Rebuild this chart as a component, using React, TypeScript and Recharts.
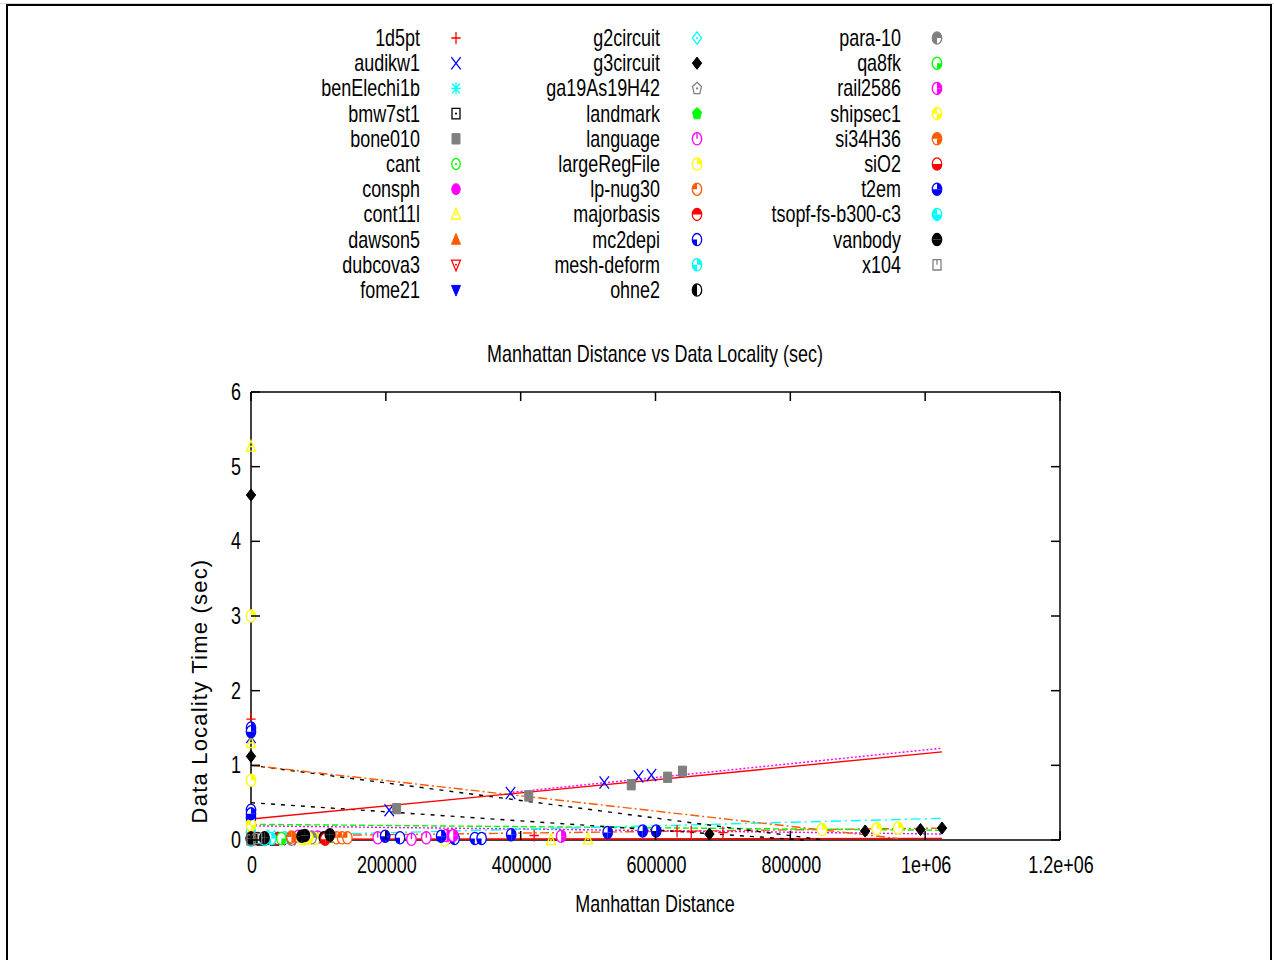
import React from 'react';
import { ScatterChart, Scatter, XAxis, YAxis, Legend, Label } from 'recharts';

// ---- axes ----
const xTicks = [0, 200000, 400000, 600000, 800000, 1000000, 1200000];
const xTickLabels = ['0', '200000', '400000', '600000', '800000', '1e+06', '1.2e+06'];
const yTicks = [0, 1, 2, 3, 4, 5, 6];

// ---- measurements: [manhattan distance, data locality time (sec)] ----
const d1d5pt = [[0, 1.62], [0, 0.02], [420000, 0.06], [632000, 0.12], [653000, 0.11], [700000, 0.1]];
const dAudikw1 = [[0, 1.38], [205000, 0.4], [385000, 0.63], [524000, 0.77], [575000, 0.85], [594000, 0.87]];
const dBenElechi1b = [[0, 0.05], [30000, 0.02], [45000, 0.03]];
const dBmw7st1 = [[5000, 0.01], [15000, 0.0], [25000, 0.01], [35000, 0.0], [45000, 0.01]];
const dBone010 = [[0, 0.02], [216000, 0.42], [412000, 0.59], [564000, 0.74], [618000, 0.84], [640000, 0.92]];
const dCant = [[0, 0.03], [60000, 0.02], [120000, 0.04]];
const dConsph = [[0, 0.05], [75000, 0.06], [90000, 0.05]];
const dCont11l = [[0, 5.27], [0, 1.3], [445000, 0.0], [500000, 0.01]];
const dDawson5 = [[40000, 0.03], [60000, 0.02], [70000, 0.03]];
const dDubcova3 = [[50000, 0.02], [65000, 0.02], [80000, 0.03]];
const dFome21 = [[0, 0.01], [20000, 0.0]];
const dG2circuit = [[0, 0.02], [25000, 0.05], [35000, 0.04]];
const dG3circuit = [[0, 4.62], [0, 1.12], [680000, 0.08], [911000, 0.12], [993000, 0.14], [1025000, 0.16]];
const dGa19As19H42 = [[0, 0.05], [80000, 0.04]];
const dLandmark = [[0, 0.02], [100000, 0.03]];
const dLanguage = [[99000, 0.04], [188000, 0.03], [238000, 0.01], [260000, 0.03], [285000, 0.04], [292000, 0.03]];
const dLargeRegFile = [[0, 3.0], [0, 0.8], [0, 0.25], [83000, 0.02], [95000, 0.02], [287000, 0.0], [847000, 0.14], [928000, 0.15], [960000, 0.16]];
const dLpNug30 = [[127000, 0.03], [135000, 0.03], [143000, 0.03]];
const dMajorbasis = [[0, 0.01], [40000, 0.02]];
const dMc2depi = [[0, 0.4], [0, 0.3], [221000, 0.03], [302000, 0.02], [332000, 0.02], [342000, 0.02]];
const dMeshDeform = [[0, 0.1], [30000, 0.02], [50000, 0.03]];
const dOhne2 = [[0, 0.03], [10000, 0.02], [20000, 0.01], [108000, 0.03], [115000, 0.05]];
const dPara10 = [[0, 0.0], [60000, 0.01], [90000, 0.03]];
const dQa8fk = [[0, 0.01], [45000, 0.02]];
const dRail2586 = [[70000, 0.05], [290000, 0.06], [300000, 0.06], [460000, 0.05]];
const dShipsec1 = [[0, 0.2], [75000, 0.02], [85000, 0.03]];
const dSi34H36 = [[0, 0.03], [60000, 0.04]];
const dSiO2 = [[0, 0.02], [110000, 0.01]];
const dT2em = [[0, 1.5], [0, 1.45], [0, 0.35], [199000, 0.05], [282000, 0.05], [386000, 0.07], [529000, 0.1], [581000, 0.12], [601000, 0.12]];
const dTsopf = [[0, 0.0], [20000, 0.01]];
const dVanbody = [[0, 0.02], [20000, 0.03], [75000, 0.05], [80000, 0.06], [117000, 0.07]];
const dX104 = [[0, 0.0], [10000, 0.02]];

// ---- fitted trend lines ----
const fitRed = [[0, 0.28], [1025000, 1.18]];
const fitMagenta = [[388000, 0.64], [1025000, 1.23]];
const fitOrange = [[0, 1.0], [960000, 0.02]];
const fitBlackA = [[0, 1.0], [850000, 0.0]];
const fitBlackB = [[0, 0.5], [820000, 0.0]];
const fitCyan = [[0, 0.05], [1025000, 0.29]];
const fitGreen = [[0, 0.21], [1025000, 0.13]];
const fitMagentaLow = [[0, 0.19], [1025000, 0.08]];
const fitOrangeLow = [[0, 0.05], [1025000, 0.16]];
const fitRedLow = [[0, 0.01], [1025000, 0.02]];

// invisible corner points that span the mirrored top/right axes
const frameCorners = [[0, 0], [1200000, 6]];

const RED = '#ff0000', BLUE = '#0000ff', CYAN = '#00ffff', BLACK = '#000000', GREY = '#808080',
  GREEN = '#00ff00', MAGENTA = '#ff00ff', YELLOW = '#ffff00', ORANGE = '#ff5a00';

type Series = { name: string; data: number[][]; color: string; kind: string };

const SERIES: Series[] = [
  { name: '1d5pt', data: d1d5pt, color: RED, kind: 'plus' },
  { name: 'audikw1', data: dAudikw1, color: BLUE, kind: 'cross' },
  { name: 'benElechi1b', data: dBenElechi1b, color: CYAN, kind: 'star' },
  { name: 'bmw7st1', data: dBmw7st1, color: BLACK, kind: 'boxDot' },
  { name: 'bone010', data: dBone010, color: GREY, kind: 'boxF' },
  { name: 'cant', data: dCant, color: GREEN, kind: 'circDot' },
  { name: 'consph', data: dConsph, color: MAGENTA, kind: 'circF' },
  { name: 'cont11l', data: dCont11l, color: YELLOW, kind: 'triDot' },
  { name: 'dawson5', data: dDawson5, color: ORANGE, kind: 'triF' },
  { name: 'dubcova3', data: dDubcova3, color: RED, kind: 'itriDot' },
  { name: 'fome21', data: dFome21, color: BLUE, kind: 'itriF' },
  { name: 'g2circuit', data: dG2circuit, color: CYAN, kind: 'diaDot' },
  { name: 'g3circuit', data: dG3circuit, color: BLACK, kind: 'diaF' },
  { name: 'ga19As19H42', data: dGa19As19H42, color: GREY, kind: 'pentDot' },
  { name: 'landmark', data: dLandmark, color: GREEN, kind: 'pentF' },
  { name: 'language', data: dLanguage, color: MAGENTA, kind: 'q0' },
  { name: 'largeRegFile', data: dLargeRegFile, color: YELLOW, kind: 'q1' },
  { name: 'lp-nug30', data: dLpNug30, color: ORANGE, kind: 'q2' },
  { name: 'majorbasis', data: dMajorbasis, color: RED, kind: 'q3' },
  { name: 'mc2depi', data: dMc2depi, color: BLUE, kind: 'q4' },
  { name: 'mesh-deform', data: dMeshDeform, color: CYAN, kind: 'q5' },
  { name: 'ohne2', data: dOhne2, color: BLACK, kind: 'q6' },
  { name: 'para-10', data: dPara10, color: GREY, kind: 'q7' },
  { name: 'qa8fk', data: dQa8fk, color: GREEN, kind: 'q8' },
  { name: 'rail2586', data: dRail2586, color: MAGENTA, kind: 'q9' },
  { name: 'shipsec1', data: dShipsec1, color: YELLOW, kind: 'q10' },
  { name: 'si34H36', data: dSi34H36, color: ORANGE, kind: 'q11' },
  { name: 'siO2', data: dSiO2, color: RED, kind: 'q12' },
  { name: 't2em', data: dT2em, color: BLUE, kind: 'q13' },
  { name: 'tsopf-fs-b300-c3', data: dTsopf, color: CYAN, kind: 'q14' },
  { name: 'vanbody', data: dVanbody, color: BLACK, kind: 'q15' },
  { name: 'x104', data: dX104, color: GREY, kind: 'boxE' },
];

type Fit = { data: number[][]; color: string; dash?: string };
const FITS: Fit[] = [
  { data: fitRedLow, color: RED },
  { data: fitOrangeLow, color: ORANGE, dash: '9 3 2 3' },
  { data: fitMagentaLow, color: MAGENTA, dash: '2 2' },
  { data: fitGreen, color: GREEN, dash: '6 3' },
  { data: fitCyan, color: CYAN, dash: '10 4 2 4' },
  { data: fitBlackB, color: BLACK, dash: '4 6' },
  { data: fitBlackA, color: BLACK, dash: '4 6' },
  { data: fitOrange, color: ORANGE, dash: '9 3 2 3' },
  { data: fitMagenta, color: MAGENTA, dash: '2 2' },
  { data: fitRed, color: RED },
];

const toPts = (a: number[][]) => a.map(([x, y]) => ({ x, y }));

const SANS = "'Liberation Sans', Arial, Helvetica, sans-serif";
const NARROW_SCALE = 0.78;
const FS = 23;

// condensed text: Liberation Sans squeezed horizontally
function NText({ x, y, anchor = 'start', children }: { x: number; y: number; anchor?: string; children: React.ReactNode }) {
  return (
    <text
      transform={`translate(${x},${y}) scale(${NARROW_SCALE},1)`}
      x={0}
      y={0}
      textAnchor={anchor as any}
      fontFamily={SANS}
      fontSize={FS}
      fill="#000"
    >
      {children}
    </text>
  );
}

// marker glyph, drawn in a unit box and stretched to point size
const SX = 4.7;
const SY = 6.1;

function quadPath(q: number) {
  // quadrant wedges: 0 upper-right, 1 upper-left, 2 lower-left, 3 lower-right
  const w = [
    'M0 0 L0 -1 A1 1 0 0 1 1 0 Z',
    'M0 0 L-1 0 A1 1 0 0 1 0 -1 Z',
    'M0 0 L0 1 A1 1 0 0 1 -1 0 Z',
    'M0 0 L1 0 A1 1 0 0 1 0 1 Z',
  ];
  return w[q];
}

function Glyph({ kind, cx, cy, color }: { kind: string; cx: number; cy: number; color: string }) {
  if (cx == null || cy == null || isNaN(cx) || isNaN(cy)) return <g />;
  const st = { stroke: color, strokeWidth: 1.3, vectorEffect: 'non-scaling-stroke' as const, fill: 'none' };
  const fl = { fill: color, stroke: color, strokeWidth: 1, vectorEffect: 'non-scaling-stroke' as const };
  const dot = <ellipse cx={0} cy={0} rx={0.22} ry={0.17} fill={color} />;
  let body: React.ReactNode = null;
  const tri = '0,-1 0.95,0.75 -0.95,0.75';
  const itri = '0,1 0.95,-0.75 -0.95,-0.75';
  const dia = '0,-1 1,0 0,1 -1,0';
  const pent = '0,-1 0.95,-0.3 0.6,0.85 -0.6,0.85 -0.95,-0.3';
  switch (kind) {
    case 'plus':
      body = <path d="M-1 0 L1 0 M0 -1 L0 1" {...st} />; break;
    case 'cross':
      body = <path d="M-1 -1 L1 1 M-1 1 L1 -1" {...st} />; break;
    case 'star':
      body = <path d="M-1 0 L1 0 M0 -1 L0 1 M-0.8 -0.8 L0.8 0.8 M-0.8 0.8 L0.8 -0.8" {...st} />; break;
    case 'boxDot':
      body = <g><rect x={-0.85} y={-0.85} width={1.7} height={1.7} {...st} />{dot}</g>; break;
    case 'boxF':
      body = <rect x={-0.85} y={-0.85} width={1.7} height={1.7} {...fl} />; break;
    case 'boxE':
      body = <g><rect x={-0.85} y={-0.85} width={1.7} height={1.7} {...st} /><path d="M0 -0.85 L0 0" {...st} /></g>; break;
    case 'circDot':
      body = <g><circle r={0.9} {...st} />{dot}</g>; break;
    case 'circF':
      body = <circle r={0.9} {...fl} />; break;
    case 'triDot':
      body = <g><polygon points={tri} {...st} />{dot}</g>; break;
    case 'triF':
      body = <polygon points={tri} {...fl} />; break;
    case 'itriDot':
      body = <g><polygon points={itri} {...st} />{dot}</g>; break;
    case 'itriF':
      body = <polygon points={itri} {...fl} />; break;
    case 'diaDot':
      body = <g><polygon points={dia} {...st} />{dot}</g>; break;
    case 'diaF':
      body = <polygon points={dia} {...fl} />; break;
    case 'pentDot':
      body = <g><polygon points={pent} {...st} />{dot}</g>; break;
    case 'pentF':
      body = <polygon points={pent} {...fl} />; break;
    default: {
      const mask = parseInt(kind.slice(1), 10);
      const wedges = [0, 1, 2, 3].filter((b) => mask & (1 << b));
      body = (
        <g>
          <circle r={1} fill="#fff" stroke="none" />
          {wedges.map((b) => <path key={b} d={quadPath(b)} fill={color} stroke="none" />)}
          {mask === 0 && <path d="M0 -1 L0 0" {...st} />}
          <circle r={1} {...st} />
        </g>
      );
    }
  }
  return <g transform={`translate(${cx},${cy}) scale(${SX},${SY})`}>{body}</g>;
}

const EmptyShape = () => <g />;

// ---- ticks (inward, mirrored on top/right) ----
const TICK = 9;
function BottomTick(p: any) {
  const i = xTicks.indexOf(p.payload.value);
  return (
    <g>
      <line x1={p.x} x2={p.x} y1={p.y} y2={p.y - TICK} stroke="#000" strokeWidth={1.5} />
      <NText x={p.x + 1} y={p.y + 33} anchor="middle">{xTickLabels[i]}</NText>
    </g>
  );
}
function TopTick(p: any) {
  return <line x1={p.x} x2={p.x} y1={p.y} y2={p.y + TICK} stroke="#000" strokeWidth={1.5} />;
}
function LeftTick(p: any) {
  return (
    <g>
      <line x1={p.x} x2={p.x + TICK} y1={p.y} y2={p.y} stroke="#000" strokeWidth={1.5} />
      <NText x={p.x - 10} y={p.y + 8} anchor="end">{p.payload.value}</NText>
    </g>
  );
}
function RightTick(p: any) {
  return <line x1={p.x} x2={p.x - TICK} y1={p.y} y2={p.y} stroke="#000" strokeWidth={1.5} />;
}

// ---- legend: three columns, label right-aligned with marker to the right ----
const LEG_LABEL_X = [420, 660, 901];
const LEG_MARK_X = [456, 697, 937];
const LEG_TOP = 38;
const LEG_STEP = 25.2;
const LEG_ROWS = 11;

function LegendBlock() {
  return (
    <svg width={1274} height={320} style={{ display: 'block' }}>
      {SERIES.map((s, i) => {
        const col = Math.floor(i / LEG_ROWS);
        const row = i % LEG_ROWS;
        const y = LEG_TOP + row * LEG_STEP;
        return (
          <g key={s.name}>
            <NText x={LEG_LABEL_X[col]} y={y + 8} anchor="end">{s.name}</NText>
            <Glyph kind={s.kind} cx={LEG_MARK_X[col]} cy={y} color={s.color} />
          </g>
        );
      })}
    </svg>
  );
}

const axisStyle = { stroke: '#000', strokeWidth: 1.5 };

export default function App() {
  return (
    <div style={{ position: 'absolute', left: 0, top: 0, width: 1274, height: 960, background: '#fff', overflow: 'hidden' }}>
      <div style={{ position: 'absolute', left: 0, top: 3, width: 1274, height: 1, background: '#d8d8d8' }} />
      <div
        style={{
          position: 'absolute', left: 6, top: 4, width: 1262, height: 1000,
          borderLeft: '2px solid #000', borderTop: '2px solid #000', borderRight: '2px solid #000',
        }}
      />
      <div style={{ position: 'absolute', left: 0, top: 0 }}>
        <ScatterChart width={1274} height={960} margin={{ top: 391, right: 213, bottom: 60, left: 191 }}>
          <XAxis
            xAxisId={0}
            dataKey="x"
            type="number"
            domain={[0, 1200000]}
            ticks={xTicks}
            interval={0}
            tickLine={false}
            tickSize={0}
            tickMargin={0}
            tick={<BottomTick />}
            axisLine={axisStyle}
            height={60}
          >
            <Label content={() => <NText x={655} y={912} anchor="middle">Manhattan Distance</NText>} />
          </XAxis>
          <XAxis
            xAxisId="top"
            orientation="top"
            dataKey="x"
            type="number"
            domain={[0, 1200000]}
            ticks={xTicks}
            interval={0}
            tickLine={false}
            tickSize={0}
            tickMargin={0}
            tick={<TopTick />}
            axisLine={axisStyle}
            height={1}
          >
            <Label
              content={() => <NText x={655} y={362} anchor="middle">Manhattan Distance vs Data Locality (sec)</NText>}
            />
          </XAxis>
          <YAxis
            yAxisId={0}
            dataKey="y"
            type="number"
            domain={[0, 6]}
            ticks={yTicks}
            interval={0}
            tickLine={false}
            tickSize={0}
            tickMargin={0}
            tick={<LeftTick />}
            axisLine={axisStyle}
            width={60}
          >
            <Label
              content={() => (
                <text
                  x={207}
                  y={691}
                  transform="rotate(-90, 207, 691)"
                  textAnchor="middle"
                  fontFamily={SANS}
                  fontSize={22}
                  letterSpacing={1.2}
                  fill="#000"
                >
                  Data Locality Time (sec)
                </text>
              )}
            />
          </YAxis>
          <YAxis
            yAxisId="right"
            orientation="right"
            dataKey="y"
            type="number"
            domain={[0, 6]}
            ticks={yTicks}
            interval={0}
            tickLine={false}
            tickSize={0}
            tickMargin={0}
            tick={<RightTick />}
            axisLine={axisStyle}
            width={1}
          />
          <Legend
            layout="horizontal"
            verticalAlign="middle"
            align="center"
            wrapperStyle={{ position: 'absolute', left: 0, top: 0, width: 1274, height: 320 }}
            content={() => <LegendBlock />}
          />
          <Scatter
            xAxisId="top"
            yAxisId="right"
            data={toPts(frameCorners)}
            shape={EmptyShape}
            legendType="none"
            isAnimationActive={false}
          />
          {FITS.map((f, i) => (
            <Scatter
              key={'fit' + i}
              data={toPts(f.data)}
              line={{ stroke: f.color, strokeWidth: 1.4, strokeDasharray: f.dash }}
              shape={EmptyShape}
              legendType="none"
              isAnimationActive={false}
            />
          ))}
          {SERIES.map((s) => (
            <Scatter
              key={s.name}
              name={s.name}
              data={toPts(s.data)}
              fill={s.color}
              shape={(p: any) => <Glyph kind={s.kind} cx={p.cx} cy={p.cy} color={s.color} />}
              isAnimationActive={false}
            />
          ))}
        </ScatterChart>
      </div>
    </div>
  );
}
